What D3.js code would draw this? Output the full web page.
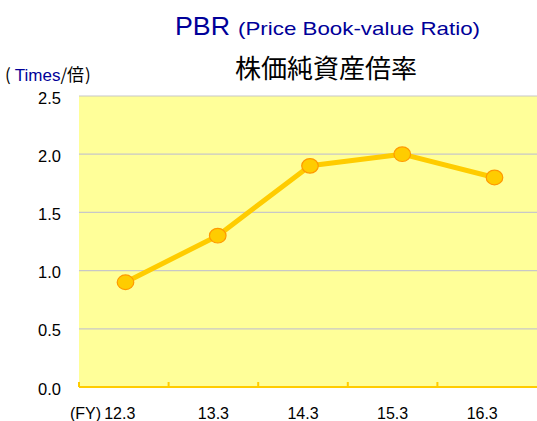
<!DOCTYPE html>
<html>
<head>
<meta charset="utf-8">
<script src="https://cdn.jsdelivr.net/npm/d3@7"></script>
<style>
  body { margin: 0; background: #fff; }
  text { font-family: "Liberation Sans", Arial, sans-serif; }
  .jp { font-family: "Noto Sans CJK JP", sans-serif; }
</style>
</head>
<body>
<div id="chart"></div>
<script>
// data
const years = ["12.3", "13.3", "14.3", "15.3", "16.3"];
const pbr = [0.9, 1.3, 1.9, 2.0, 1.8];
const yTicks = [0, 0.5, 1.0, 1.5, 2.0, 2.5];

const W = 537, H = 421;
const margin = {top: 96, right: 10, bottom: 34, left: 79};

const svg = d3.select("#chart").append("svg")
    .attr("width", W)
    .attr("height", H);

// category bands (ticks + labels)
const x = d3.scaleBand()
    .domain(years)
    .range([margin.left, 527]);

// marker positions (drawn a little right of band centres, as in the original)
const xp = d3.scalePoint()
    .domain(years)
    .range([125.5, 494.5]);

const y = d3.scaleLinear()
    .domain([0, 2.5])
    .range([H - margin.bottom, margin.top]);

// plot background
svg.append("rect")
    .attr("x", margin.left)
    .attr("y", y(2.5))
    .attr("width", W - margin.left)
    .attr("height", y(0) - y(2.5))
    .attr("fill", "#FFFF99");

// grid lines
svg.append("g")
    .selectAll("line")
    .data(yTicks.filter(d => d > 0))
    .join("line")
    .attr("x1", margin.left)
    .attr("x2", W)
    .attr("y1", d => y(d))
    .attr("y2", d => y(d))
    .attr("stroke", "#C8C8C8")
    .attr("stroke-width", 1.2);

// y tick labels
svg.append("g")
    .selectAll("text")
    .data(yTicks)
    .join("text")
    .attr("x", 61)
    .attr("y", d => y(d) + 7.5)
    .attr("text-anchor", "end")
    .attr("font-size", 16.5)
    .attr("fill", "#000")
    .text(d => d.toFixed(1));

// x axis line + ticks (ticks pointing up)
const xAxis = svg.append("g");
xAxis.append("line")
    .attr("x1", margin.left)
    .attr("x2", W)
    .attr("y1", y(0))
    .attr("y2", y(0))
    .attr("stroke", "#FFCC00")
    .attr("stroke-width", 2);
xAxis.selectAll("line.tick")
    .data(years)
    .join("line")
    .attr("class", "tick")
    .attr("x1", d => x(d))
    .attr("x2", d => x(d))
    .attr("y1", y(0))
    .attr("y2", y(0) - 5)
    .attr("stroke", "#FFCC00")
    .attr("stroke-width", 2);

// x labels
svg.append("g")
    .selectAll("text")
    .data(years)
    .join("text")
    .attr("x", (d, i) => x(d) + x.bandwidth() / 2 - (i === 0 ? 4 : 0))
    .attr("y", 419)
    .attr("text-anchor", "middle")
    .attr("font-size", 16)
    .attr("fill", "#000")
    .text(d => d);

svg.append("text")
    .attr("x", 70)
    .attr("y", 419)
    .attr("font-size", 16)
    .attr("fill", "#000")
    .text("(FY)");

// line
const line = d3.line()
    .x((d, i) => xp(years[i]))
    .y(d => y(d));

svg.append("path")
    .datum(pbr)
    .attr("d", line)
    .attr("fill", "none")
    .attr("stroke", "#FFCC00")
    .attr("stroke-width", 5)
    .attr("stroke-linejoin", "round");

svg.append("g")
    .selectAll("ellipse")
    .data(pbr)
    .join("ellipse")
    .attr("cx", (d, i) => xp(years[i]))
    .attr("cy", d => y(d))
    .attr("rx", 8.3)
    .attr("ry", 7.3)
    .attr("fill", "#FFCC00")
    .attr("stroke", "#FF9900")
    .attr("stroke-width", 1.2);

// titles
svg.append("text")
    .attr("x", 175)
    .attr("y", 35)
    .attr("font-size", 25)
    .attr("fill", "#000099")
    .attr("textLength", 55)
    .attr("lengthAdjust", "spacingAndGlyphs")
    .text("PBR");

svg.append("text")
    .attr("x", 238)
    .attr("y", 35)
    .attr("font-size", 19)
    .attr("fill", "#000099")
    .attr("textLength", 242)
    .attr("lengthAdjust", "spacingAndGlyphs")
    .text("(Price Book-value Ratio)");

svg.append("text")
    .attr("class", "jp")
    .attr("x", 326)
    .attr("y", 78)
    .attr("text-anchor", "middle")
    .attr("font-size", 26)
    .attr("fill", "#000")
    .text("株価純資産倍率");

const unit = svg.append("text")
    .attr("class", "jp")
    .attr("x", 5)
    .attr("y", 81)
    .attr("font-size", 17)
    .attr("fill", "#000");
unit.append("tspan").text("(");
unit.append("tspan").attr("dx", 4).attr("fill", "#000099").style("font-family", "'Liberation Sans', Arial, sans-serif").text("Times");
unit.append("tspan").text("/倍");
unit.append("tspan").attr("dx", 1).text(")");
</script>
</body>
</html>
